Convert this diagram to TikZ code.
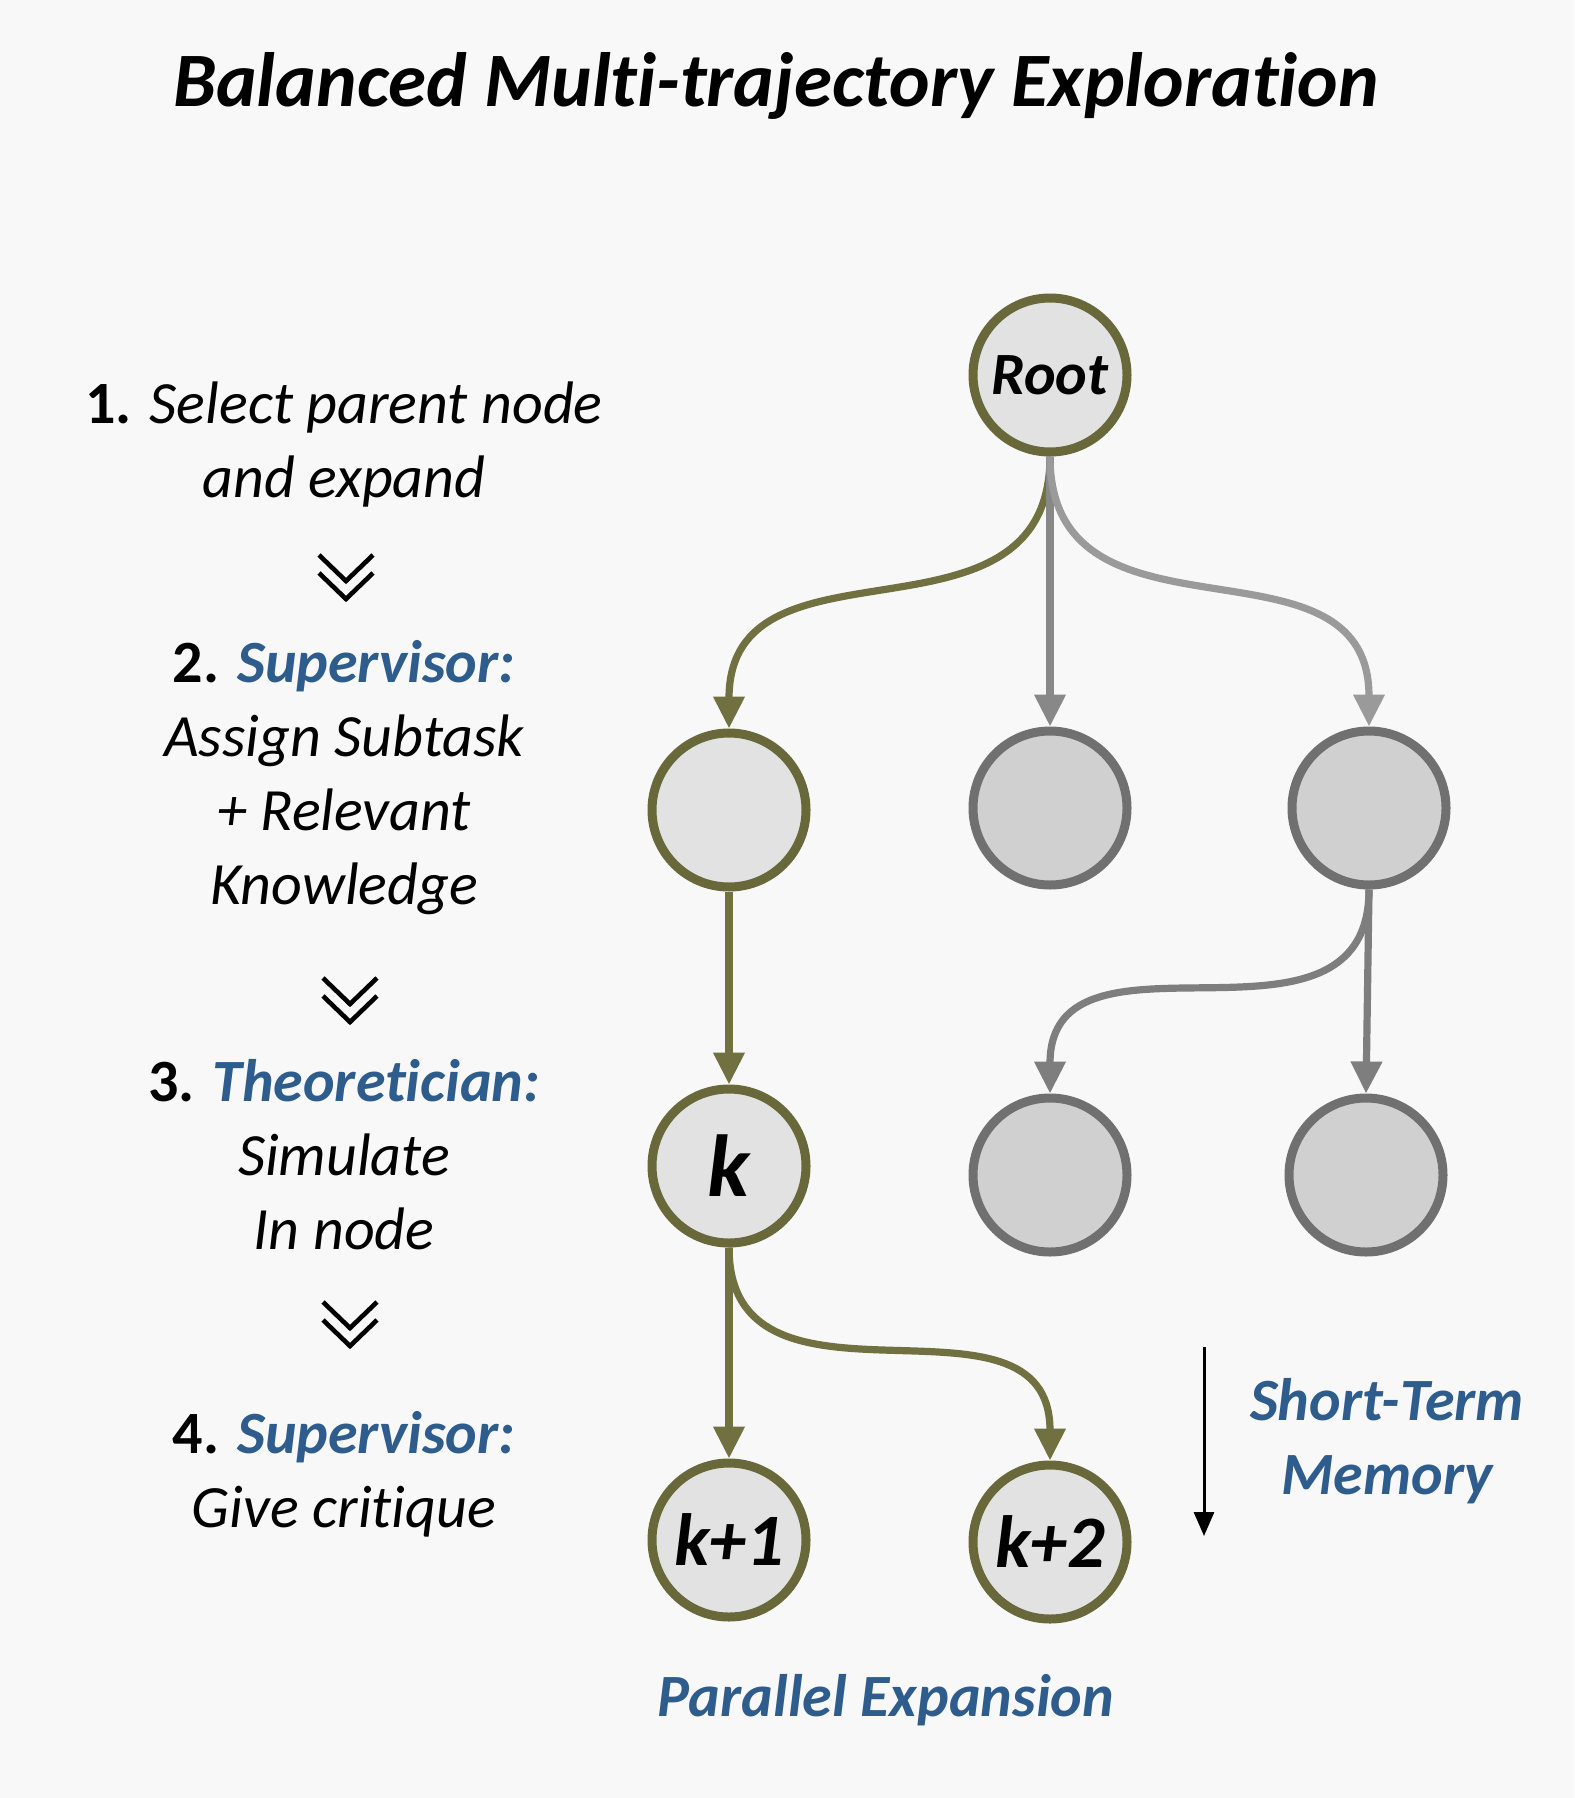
\documentclass[tikz,border=0pt]{standalone}
\usepackage{fontspec}
\setmainfont{Carlito}[Ligatures={NoCommon}]
\usetikzlibrary{positioning}
\usetikzlibrary{calc}
\usetikzlibrary{arrows.meta}
\definecolor{paper}{RGB}{248,248,248}
\definecolor{trailolive}{RGB}{104,104,58}
\definecolor{edgeolive}{RGB}{112,112,64}
\definecolor{idlegray}{RGB}{112,112,112}
\definecolor{edgegray}{RGB}{136,136,136}
\definecolor{activefill}{RGB}{226,226,226}
\definecolor{idlefill}{RGB}{208,208,208}
\definecolor{stepblue}{RGB}{46,92,140}
\tikzset{>={Triangle[length=16pt,width=15pt]}}
\tikzset{active/.style={circle, draw=trailolive, fill=activefill, line width=4.5pt, minimum size=77pt, inner sep=0pt, font=\fontsize{37}{37}\selectfont\bfseries\itshape}}
\tikzset{idle/.style={circle, draw=idlegray, fill=idlefill, line width=4.5pt, minimum size=77pt, inner sep=0pt}}
\tikzset{activeedge/.style={->, draw=edgeolive, line width=3.6pt}}
\tikzset{idleedge/.style={->, draw=edgegray, line width=3.6pt}}
\tikzset{steptext/.style={align=center, font=\fontsize{30}{37}\selectfont\itshape}}
\tikzset{bluetext/.style={align=center, text=stepblue, font=\fontsize{30}{37}\selectfont\bfseries\itshape}}
\tikzset{chevron/.style={line width=2.3pt}}
\newcommand{\rolename}[1]{{\color{stepblue}\bfseries #1}}

\begin{document}
\begin{tikzpicture}[x=0.5pt, y=-0.5pt]

    % Page.
    \fill [paper] (0,0) rectangle (1574,1798);
    \useasboundingbox (0,0) rectangle (1574,1798);

    % Title.
    \node [font=\fontsize{38.5}{38.5}\selectfont\bfseries\itshape] (title) at (776,86) {Balanced Multi-trajectory Exploration};

    % Steps on the left.
    \node [steptext] (step1) at (344,444) {{\upshape\bfseries 1.} Select parent node\\and expand};
    \node [steptext] (step2) at (344,778) {{\upshape\bfseries 2.} \rolename{Supervisor:}\\Assign Subtask\\+ Relevant\\Knowledge};
    \node [steptext] (step3) at (344,1155) {{\upshape\bfseries 3.} \rolename{Theoretician:}\\Simulate\\In node};
    \node [steptext] (step4) at (344,1474) {{\upshape\bfseries 4.} \rolename{Supervisor:}\\Give critique};

    % Chevrons between steps.
    \coordinate (chev1) at (346,577);
    \coordinate (chev2) at (350,1000);
    \coordinate (chev3) at (350,1324);
    \foreach \c in {chev1,chev2,chev3} {
        \draw [chevron] ($(\c)+(-27,-22)$) -- ($(\c)+(0,4)$) -- ($(\c)+(27,-22)$);
        \draw [chevron] ($(\c)+(-27,-4)$) -- ($(\c)+(0,22)$) -- ($(\c)+(27,-4)$);
    }

    % Tree.
    \node [active, font=\fontsize{30}{30}\selectfont\bfseries\itshape] (root) at (1050,375) {Root};
    \node [active] (n1) at (729,810) {};
    \node [idle] (n2) at (1050,808) {};
    \node [idle] (n3) at (1369,808) {};
    \node [active, font=\fontsize{44}{44}\selectfont\bfseries\itshape] (k) at (729,1166) {k};
    \node [idle] (n31) at (1050,1175) {};
    \node [idle] (n32) at (1366,1175) {};
    \node [active] (k1) at (729,1540) {k+1};
    \node [active] (k2) at (1050,1542) {k+2};

    % Edges of the chosen trajectory.
    \draw [activeedge] (root.south) to [out=-90, in=90, looseness=1.25] (n1.north);
    \draw [activeedge] (n1.south) -- (k.north);
    \draw [activeedge] (k.south) -- (k1.north);
    \draw [activeedge] (k.south) to [out=-90, in=90, looseness=1.25] (k2.north);

    % Other edges.
    \draw [idleedge] (root.south) -- (n2.north);
    \draw [idleedge, draw=edgegray!85] (root.south) to [out=-90, in=90, looseness=1.25] (n3.north);
    \draw [idleedge, draw=idlegray!90] (n3.south) to [out=-90, in=90, looseness=1.25] (n31.north);
    \draw [idleedge, draw=idlegray!90] (n3.south) -- (n32.north);

    % Memory arrow and labels.
    \coordinate (memtop) at (1204,1347);
    \coordinate (membot) at (1204,1536);
    \draw [-{Triangle[length=12pt,width=10pt]}, line width=1.5pt] (memtop) -- (membot);
    \node [bluetext] (memory) at (1387,1441) {Short-Term\\Memory};
    \node [bluetext] (parallel) at (886,1700) {Parallel Expansion};

\end{tikzpicture}
\end{document}
